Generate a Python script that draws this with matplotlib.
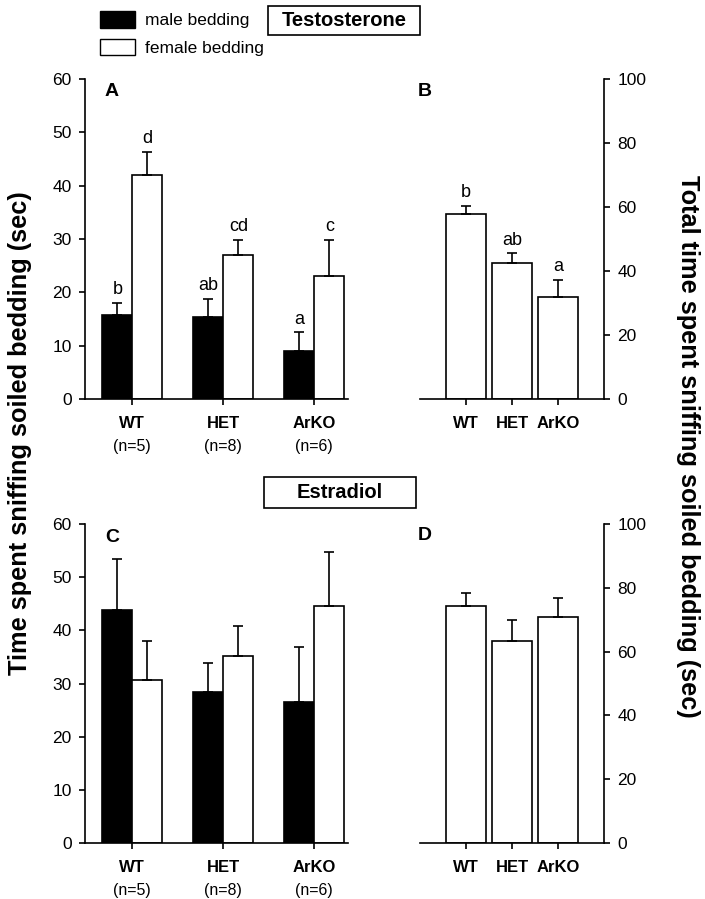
import numpy as np
import matplotlib
matplotlib.use('Agg')
import matplotlib.pyplot as plt
from matplotlib.patches import Rectangle

plt.rcParams['font.family'] = ['Liberation Sans', 'DejaVu Sans']

# ---- data ----
groups = ['WT', 'HET', 'ArKO']
n_labels = ['(n=5)', '(n=8)', '(n=6)']

# Testosterone (A, B)
t_male = [15.7, 15.4, 9.0]
t_male_err = [2.3, 3.3, 3.5]
t_female = [42.0, 27.0, 23.1]
t_female_err = [4.4, 2.8, 6.7]
t_male_sig = ['b', 'ab', 'a']
t_female_sig = ['d', 'cd', 'c']
t_total = [57.7, 42.6, 31.8]
t_total_err = [2.6, 2.9, 5.4]
t_total_sig = ['b', 'ab', 'a']

# Estradiol (C, D)
e_male = [43.8, 28.4, 26.5]
e_male_err = [9.6, 5.5, 10.3]
e_female = [30.6, 35.2, 44.5]
e_female_err = [7.4, 5.6, 10.2]
e_total = [74.4, 63.4, 70.9]
e_total_err = [3.9, 6.5, 5.9]

W, H = 705, 899
fig = plt.figure(figsize=(W / 100, H / 100), dpi=100)
PT = 72 / 100  # points per pixel


def px_axes(x0, y0, x1, y1):
    return fig.add_axes([x0 / W, 1 - y1 / H, (x1 - x0) / W, (y1 - y0) / H])


def style_axes(ax, side):
    for s in ['top', 'left', 'right']:
        ax.spines[s].set_visible(False)
    ax.spines[side].set_visible(True)
    for s in ax.spines.values():
        s.set_linewidth(1.2)
    ax.tick_params(direction='out', length=4, width=1.2, labelsize=12.5, colors='black', pad=5.5)
    if side == 'right':
        ax.yaxis.tick_right()
        ax.yaxis.set_label_position('right')


def group_labels(ax, x, with_n):
    for i in range(len(x)):
        ax.annotate(groups[i], (x[i], 0), xytext=(0, -24 * PT), textcoords='offset points',
                    xycoords=('data', 'axes fraction'), ha='center', va='center',
                    fontsize=12, fontweight='bold')
        if with_n:
            ax.annotate(n_labels[i], (x[i], 0), xytext=(0, -47 * PT), textcoords='offset points',
                        xycoords=('data', 'axes fraction'), ha='center', va='center',
                        fontsize=11.5)


def grouped_panel(ax, male, male_err, female, female_err, male_sig=None, female_sig=None):
    x = np.arange(len(groups))
    bw = 0.33
    ax.bar(x - bw / 2, male, bw, color='black', edgecolor='black', linewidth=1.2)
    ax.bar(x + bw / 2, female, bw, color='white', edgecolor='black', linewidth=1.2)
    ax.errorbar(x - bw / 2, male, yerr=[np.zeros(3), male_err], fmt='none',
                ecolor='black', elinewidth=1.2, capsize=3.5, capthick=1.2)
    ax.errorbar(x + bw / 2, female, yerr=[np.zeros(3), female_err], fmt='none',
                ecolor='black', elinewidth=1.2, capsize=3.5, capthick=1.2)
    if male_sig:
        for i in range(3):
            ax.text(x[i] - bw / 2, male[i] + male_err[i] + 0.9, male_sig[i],
                    ha='center', va='bottom', fontsize=13)
            ax.text(x[i] + bw / 2, female[i] + female_err[i] + 0.9, female_sig[i],
                    ha='center', va='bottom', fontsize=13)
    ax.set_xlim(-0.52, 2.37)
    ax.set_ylim(0, 60)
    ax.set_yticks(range(0, 61, 10))
    ax.set_xticks(x)
    ax.set_xticklabels([])
    style_axes(ax, 'left')
    group_labels(ax, x, True)


def total_panel(ax, total, total_err, sig=None):
    x = np.arange(len(groups))
    bw = 0.87
    ax.bar(x, total, bw, color='white', edgecolor='black', linewidth=1.2)
    ax.errorbar(x, total, yerr=[np.zeros(3), total_err], fmt='none',
                ecolor='black', elinewidth=1.2, capsize=3.5, capthick=1.2)
    if sig:
        for i in range(3):
            ax.text(x[i], total[i] + total_err[i] + 1.5, sig[i],
                    ha='center', va='bottom', fontsize=13)
    ax.set_xlim(-1.0, 3.0)
    ax.set_ylim(0, 100)
    ax.set_yticks(range(0, 101, 20))
    ax.set_xticks(x)
    ax.set_xticklabels([])
    style_axes(ax, 'right')
    group_labels(ax, x, False)


axA = px_axes(85, 79, 348, 399)
grouped_panel(axA, t_male, t_male_err, t_female, t_female_err, t_male_sig, t_female_sig)
axB = px_axes(420, 79, 604, 399)
total_panel(axB, t_total, t_total_err, t_total_sig)
axC = px_axes(85, 524, 348, 843)
grouped_panel(axC, e_male, e_male_err, e_female, e_female_err)
axD = px_axes(420, 524, 604, 843)
total_panel(axD, e_total, e_total_err)

# panel letters
for lab, (px, py) in zip('ABCD', [(105, 92), (418, 92), (105, 538), (418, 535)]):
    fig.text(px / W, 1 - py / H, lab, fontsize=14, fontweight='bold', ha='left', va='center')

# legend
fig.patches.append(Rectangle((100 / W, 1 - 28 / H), 35 / W, 17 / H, transform=fig.transFigure,
                             facecolor='black', edgecolor='black', linewidth=1))
fig.patches.append(Rectangle((100 / W, 1 - 55 / H), 35 / W, 16 / H, transform=fig.transFigure,
                             facecolor='white', edgecolor='black', linewidth=1))
fig.text(145 / W, 1 - 20 / H, 'male bedding', fontsize=12.5, va='center', ha='left')
fig.text(145 / W, 1 - 49 / H, 'female bedding', fontsize=12.5, va='center', ha='left')

# hormone boxes
for label, (x0, y0, x1, y1) in [('Testosterone', (268, 6, 420, 35)),
                                ('Estradiol', (264, 477, 416, 508))]:
    fig.patches.append(Rectangle((x0 / W, 1 - y1 / H), (x1 - x0) / W, (y1 - y0) / H,
                                 transform=fig.transFigure, facecolor='white',
                                 edgecolor='black', linewidth=1.2))
    fig.text((x0 + x1) / 2 / W, 1 - (y0 + y1) / 2 / H, label, fontsize=14.5,
             fontweight='bold', ha='center', va='center')

# axis titles
fig.text(20 / W, 1 - 433 / H, 'Time spent sniffing soiled bedding (sec)', rotation=90,
         fontsize=18.3, fontweight='bold', ha='center', va='center')
fig.text(688 / W, 1 - 446 / H, 'Total time spent sniffing soiled bedding (sec)', rotation=270,
         fontsize=18.3, fontweight='bold', ha='center', va='center')

fig.savefig('out.png', dpi=100)
